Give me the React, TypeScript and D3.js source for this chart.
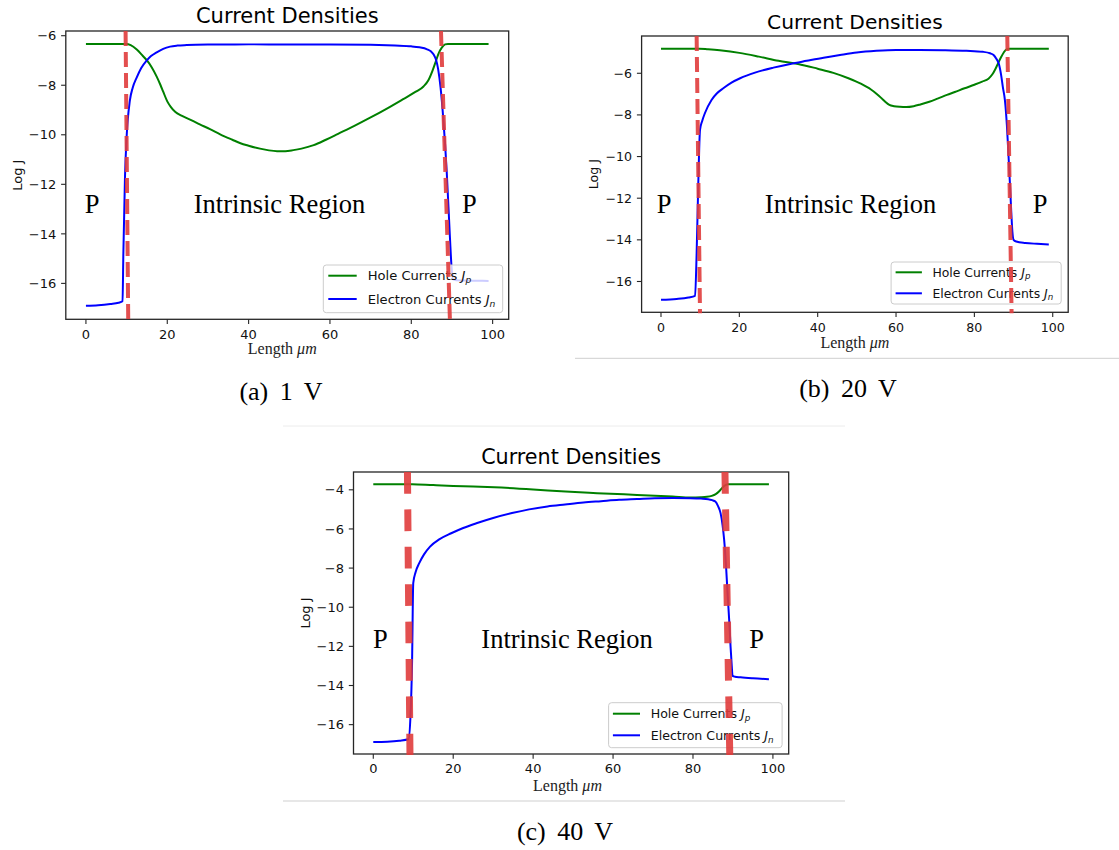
import React from 'react';
import * as d3 from 'd3';

type Pt = [number, number];

// ---------- data ----------
const xTicks = [0, 20, 40, 60, 80, 100];
const yTicksA = [-16, -14, -12, -10, -8, -6];
const yTicksB = [-16, -14, -12, -10, -8, -6];
const yTicksC = [-16, -14, -12, -10, -8, -6, -4];

const captions = ['(a) 1 V', '(b) 20 V', '(c) 40 V'];
const chartTitle = 'Current Densities';
const xAxisLabel = 'Length';
const xAxisUnit = 'μm';
const yAxisLabel = 'Log J';
const seriesNames = ['Hole Currents', 'Electron Currents'];
const seriesSubscripts = ['p', 'n'];
const regionLabels = ['P', 'Intrinsic Region', 'P'];

const holeA: Pt[] = [
  [0, -6.33], [5, -6.33], [10, -6.33], [11, -6.38], [12.5, -6.56], [14, -6.82], [15, -7.0],
  [16.2, -7.28], [17.4, -7.65], [18.3, -7.98], [19, -8.26], [20, -8.65], [20.9, -8.88],
  [22, -9.08], [23.5, -9.23], [26, -9.42], [28, -9.58], [30.5, -9.77], [33, -9.98],
  [36, -10.2], [38, -10.34], [40, -10.44], [42.8, -10.56], [45, -10.63], [47, -10.66],
  [49, -10.66], [51, -10.62], [53, -10.56], [56, -10.42], [59, -10.2], [62, -9.96],
  [66, -9.64], [70, -9.3], [74, -8.94], [78, -8.56], [81, -8.27], [83, -8.05], [84.2, -7.8],
  [85.2, -7.42], [86, -7.05], [86.7, -6.72], [87.5, -6.48], [88.3, -6.35], [89, -6.33],
  [95, -6.33], [99, -6.33],
];
const electronA: Pt[] = [
  [0, -16.9], [3, -16.88], [6, -16.83], [8, -16.78], [9.0, -16.72], [9.2, -14.8], [9.6, -11.72],
  [10.0, -10.1], [10.8, -8.62], [11.5, -8.1], [12.5, -7.68], [13.6, -7.3], [14.9, -7.01],
  [16, -6.82], [17.4, -6.67], [19, -6.53], [20.7, -6.44], [22.5, -6.4], [24.8, -6.38],
  [30, -6.36], [40, -6.35], [50, -6.35], [60, -6.35], [70, -6.37], [76, -6.4], [80, -6.43],
  [82, -6.47], [83.9, -6.55], [84.8, -6.63], [85.5, -6.76], [86.1, -6.98], [86.6, -7.35],
  [87.2, -8.1], [87.9, -9.43], [88.7, -11.45], [89.5, -14.14], [89.9, -15.35], [90.3, -15.84],
  [91, -15.87], [95, -15.89], [99, -15.9],
];

const holeB: Pt[] = [
  [0, -4.82], [5, -4.82], [9.8, -4.82], [12, -4.85], [15, -4.9], [20, -5.02], [25, -5.2],
  [30, -5.4], [35, -5.55], [40, -5.78], [44, -5.98], [48, -6.25], [51, -6.5], [53.6, -6.78],
  [55, -6.98], [56.3, -7.2], [57.3, -7.38], [58.3, -7.52], [59.5, -7.58], [61, -7.61],
  [62.6, -7.62], [64.5, -7.58], [66.2, -7.5], [68.5, -7.37], [70.6, -7.22], [73, -7.04],
  [75, -6.9], [77.5, -6.72], [80, -6.55], [82, -6.4], [83.6, -6.26], [84.6, -6.05],
  [85.4, -5.78], [86.1, -5.5], [86.8, -5.23], [87.5, -5.0], [88.2, -4.85], [89, -4.82],
  [95, -4.82], [99, -4.82],
];
const electronB: Pt[] = [
  [0, -16.88], [4, -16.84], [7, -16.77], [8.7, -16.69], [9.1, -14.64], [9.5, -11.44],
  [9.96, -8.72], [10.5, -8.3], [11.2, -7.92], [12.9, -7.28], [14.3, -6.96], [15.9, -6.72],
  [18, -6.45], [20.2, -6.24], [24, -5.97], [28.7, -5.73], [33, -5.55], [37.2, -5.4],
  [41.5, -5.25], [45.7, -5.12], [50, -5.0], [55, -4.92], [60, -4.88], [66, -4.88],
  [72, -4.89], [78, -4.92], [82.2, -4.97], [84, -5.04], [84.9, -5.12], [85.6, -5.3],
  [86.2, -5.52], [86.8, -6.05], [87.3, -6.7], [87.8, -7.3], [88.3, -8.5], [88.7, -9.9],
  [89.1, -11.4], [89.4, -12.6], [89.7, -13.6], [90.0, -14.0], [90.7, -14.08], [93, -14.15],
  [96, -14.19], [99, -14.22],
];

const holeC: Pt[] = [
  [0, -3.71], [5, -3.71], [9.7, -3.71], [15, -3.76], [20, -3.8], [25, -3.83], [30.3, -3.87],
  [40, -3.98], [48.1, -4.09], [56, -4.17], [66, -4.26], [74.9, -4.34], [79.4, -4.39],
  [82, -4.38], [83.5, -4.36], [84.7, -4.31], [85.7, -4.22], [86.5, -4.09], [87.2, -3.93],
  [87.8, -3.8], [88.7, -3.71], [95, -3.71], [99, -3.71],
];
const electronC: Pt[] = [
  [0, -16.89], [3.5, -16.87], [6.5, -16.82], [8.8, -16.75], [9.3, -15.6], [9.7, -12.87],
  [10.0, -8.77], [10.6, -8.2], [11.5, -7.75], [12.7, -7.3], [14.2, -6.9], [16.5, -6.53],
  [19.5, -6.22], [22.5, -5.95], [25.8, -5.71], [30, -5.44], [34.7, -5.19], [39, -5.0],
  [43.6, -4.85], [48, -4.75], [52.6, -4.65], [57, -4.58], [61.5, -4.51], [66, -4.47],
  [70.4, -4.43], [75, -4.42], [79.3, -4.43], [82, -4.45], [83.8, -4.48], [84.8, -4.53],
  [85.6, -4.6], [86.3, -4.85], [86.9, -5.19], [87.4, -5.8], [87.8, -6.56], [88.3, -8.0],
  [88.7, -9.46], [89.1, -10.8], [89.4, -12.01], [89.7, -13.0], [89.9, -13.51], [90.5, -13.55],
  [91.9, -13.58], [95, -13.63], [99, -13.68],
];

// junction markers: [x at top, x at bottom]
const junctionsA: Pt[] = [[9.75, 10.4], [87.3, 89.5]];
const junctionsB: Pt[] = [[9.1, 9.96], [88.4, 89.5]];
const junctionsC: Pt[] = [[8.55, 9.18], [88.0, 89.2]];

// region label positions: [x of left P, x of centre text, x of right P, y]
const regionPosA = [1.5, 47.6, 94.3, -13.17];
const regionPosB = [0.8, 48.4, 96.8, -12.69];
const regionPosC = [1.8, 48.5, 95.9, -12.1];

// ---------- layout ----------
const panels = [
  {
    caption: captions[0], hole: holeA, electron: electronA, junctions: junctionsA, region: regionPosA,
    yTicks: yTicksA, yDomain: [-17.45, -5.81],
    left: 65.8, top: 31, width: 442.9, height: 288.3,
    titleSize: 21, titleDy: -7.7, tickSize: 13, xLabelBase: 354, xLabelShift: -5,
    legend: { x: 323.3, y: 265, w: 179.4, h: 47.7, r1: 10.7, gap: 23.3, lx: 5, ll: 28.4, tx: 44.4, fs: 13.1 },
    jWidth: 4, jDash: '15,6',
    captionX: 281, captionY: 399.5,
  },
  {
    caption: captions[1], hole: holeB, electron: electronB, junctions: junctionsB, region: regionPosB,
    yTicks: yTicksB, yDomain: [-17.48, -4.21],
    left: 641.6, top: 36, width: 426.6, height: 276.3,
    titleSize: 20.2, titleDy: -6.7, tickSize: 12.6, xLabelBase: 348, xLabelShift: 0,
    legend: { x: 891.1, y: 262, w: 170.1, h: 42, r1: 10.3, gap: 21, lx: 4.5, ll: 26.3, tx: 41.3, fs: 12.4 },
    jWidth: 4, jDash: '15,6',
    captionX: 848, captionY: 396.5,
  },
  {
    caption: captions[2], hole: holeC, electron: electronC, junctions: junctionsC, region: regionPosC,
    yTicks: yTicksC, yDomain: [-17.5, -3.09],
    left: 353.5, top: 472, width: 435.2, height: 282,
    titleSize: 20.7, titleDy: -7.7, tickSize: 13, xLabelBase: 791, xLabelShift: -3.6,
    legend: { x: 608.6, y: 702.7, w: 173.5, h: 45, r1: 11, gap: 21.6, lx: 4.3, ll: 27.1, tx: 42.1, fs: 12.6 },
    jWidth: 7, jDash: '21.7,15.7',
    captionX: 565, captionY: 840,
  },
];

const SANS = 'DejaVu Sans, sans-serif';
const SERIF = '"Liberation Serif", "Times New Roman", serif';
const seriesColors = ['#008000', '#0000ff'];

function Panel({ p }: { p: typeof panels[number] }) {
  const x = d3.scaleLinear().domain([-4.95, 103.95]).range([p.left, p.left + p.width]);
  const y = d3.scaleLinear().domain(p.yDomain).range([p.top + p.height, p.top]);
  const line = d3.line<Pt>().x(d => x(d[0])).y(d => y(d[1])).curve(d3.curveMonotoneX);
  const bottom = p.top + p.height;
  const cx = p.left + p.width / 2;
  const lg = p.legend;
  const fmt = (v: number) => (v < 0 ? '\u2212' + Math.abs(v) : String(v));
  const [pl, ic, pr, ry] = p.region;

  return (
    <g>
      {/* title */}
      <text x={cx} y={p.top + p.titleDy} textAnchor="middle" fontFamily={SANS} fontSize={p.titleSize} fill="#000">
        {chartTitle}
      </text>

      {/* data lines */}
      <path d={line(p.hole) || ''} fill="none" stroke={seriesColors[0]} strokeWidth={2} />
      <path d={line(p.electron) || ''} fill="none" stroke={seriesColors[1]} strokeWidth={2} />

      {/* frame */}
      <rect x={p.left} y={p.top} width={p.width} height={p.height} fill="none" stroke="#262626" strokeWidth={1.3} />

      {/* x ticks */}
      {xTicks.map(t => (
        <g key={'x' + t}>
          <line x1={x(t)} x2={x(t)} y1={bottom} y2={bottom + 4.7} stroke="#262626" strokeWidth={1.1} />
          <text x={x(t)} y={bottom + 19.3} textAnchor="middle" fontFamily={SANS} fontSize={p.tickSize} fill="#111">
            {fmt(t)}
          </text>
        </g>
      ))}
      {/* y ticks */}
      {p.yTicks.map(t => (
        <g key={'y' + t}>
          <line x1={p.left - 4.7} x2={p.left} y1={y(t)} y2={y(t)} stroke="#262626" strokeWidth={1.1} />
          <text x={p.left - 9.5} y={y(t)} dy="0.36em" textAnchor="end" fontFamily={SANS} fontSize={p.tickSize} fill="#111">
            {fmt(t)}
          </text>
        </g>
      ))}

      {/* axis labels */}
      <text
        transform={`translate(${p.left - 48},${p.top + p.height / 2}) rotate(-90)`}
        textAnchor="middle" dy="0.36em" fontFamily={SANS} fontSize={p.tickSize} fill="#111"
      >
        {yAxisLabel}
      </text>
      <text x={cx + p.xLabelShift} y={p.xLabelBase} textAnchor="middle" fontFamily={SERIF} fontSize={16} fill="#222">
        {xAxisLabel} <tspan fontStyle="italic">{xAxisUnit}</tspan>
      </text>

      {/* region labels */}
      <text x={x(pl)} y={y(ry)} textAnchor="middle" fontFamily={SERIF} fontSize={26.5} fill="#000">{regionLabels[0]}</text>
      <text x={x(ic)} y={y(ry)} textAnchor="middle" fontFamily={SERIF} fontSize={26.5} fill="#000">{regionLabels[1]}</text>
      <text x={x(pr)} y={y(ry)} textAnchor="middle" fontFamily={SERIF} fontSize={26.5} fill="#000">{regionLabels[2]}</text>

      {/* legend */}
      <rect x={lg.x} y={lg.y} width={lg.w} height={lg.h} rx={3} ry={3} fill="#fff" fillOpacity={0.8} stroke="#cccccc" strokeWidth={1} />
      {seriesNames.map((name, i) => {
        const ly = lg.y + lg.r1 + i * lg.gap;
        return (
          <g key={name}>
            <line x1={lg.x + lg.lx} x2={lg.x + lg.lx + lg.ll} y1={ly} y2={ly} stroke={seriesColors[i]} strokeWidth={2} />
            <text x={lg.x + lg.tx} y={ly} dy="0.36em" fontFamily={SANS} fontSize={lg.fs} fill="#111">
              {name}{' '}
              <tspan fontStyle="italic">J</tspan>
              <tspan fontStyle="italic" fontSize={lg.fs * 0.7} dy={lg.fs * 0.22}>{seriesSubscripts[i]}</tspan>
            </text>
          </g>
        );
      })}

      {/* junction markers */}
      {p.junctions.map((j, i) => (
        <line
          key={'j' + i}
          x1={x(j[0])} y1={p.top} x2={x(j[1])} y2={bottom + 1}
          stroke="#e03c3c" strokeOpacity={0.9} strokeWidth={p.jWidth} strokeDasharray={p.jDash}
        />
      ))}

      {/* caption */}
      <text x={p.captionX} y={p.captionY} textAnchor="middle" fontFamily={SERIF} fontSize={26} wordSpacing={5} fill="#000">
        {p.caption}
      </text>
    </g>
  );
}

export default function App() {
  return (
    <svg
      width={1119}
      height={850}
      viewBox="0 0 1119 850"
      style={{ position: 'absolute', left: 0, top: 0, background: '#fff' }}
    >
      <rect x={0} y={0} width={1119} height={850} fill="#fff" />
      <line x1={575} x2={1119} y1={358.3} y2={358.3} stroke="#cfcfcf" strokeWidth={1} />
      <line x1={283} x2={845} y1={426} y2={426} stroke="#ececec" strokeWidth={1} />
      <line x1={283} x2={845} y1={801} y2={801} stroke="#cfcfcf" strokeWidth={1} />
      {panels.map(p => (
        <Panel key={p.caption} p={p} />
      ))}
    </svg>
  );
}
